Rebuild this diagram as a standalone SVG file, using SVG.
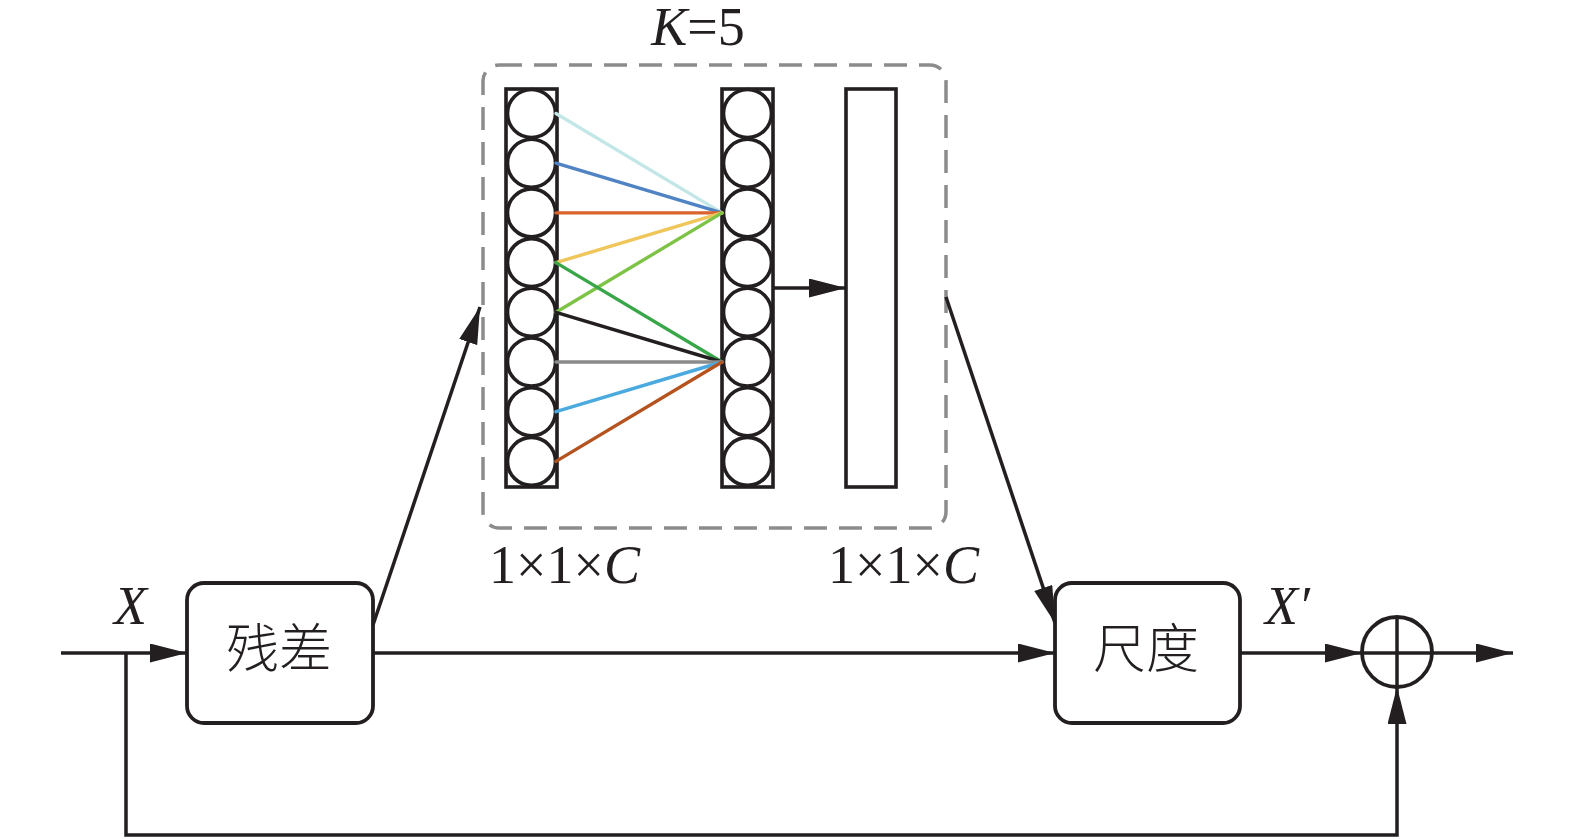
<svg xmlns="http://www.w3.org/2000/svg" width="1575" height="839" viewBox="0 0 1575 839">
<style>
.blk{fill:none;stroke:#231f20;stroke-width:3.8}
.col{fill:#fff;stroke:#231f20;stroke-width:3.6}
.ln{fill:none;stroke:#231f20;stroke-width:3.5}
.cl{fill:none;stroke-width:3.4;stroke-linecap:round}
.tx{font-family:"Liberation Serif","Times New Roman",serif;font-size:54px;fill:#231f20}
.it{font-style:italic}
.cjk{font-family:"Noto Sans CJK SC","Noto Sans CJK JP",sans-serif;font-size:53px;fill:#231f20;text-anchor:middle;font-weight:300}
</style>
<defs>
<marker id="ah" markerUnits="userSpaceOnUse" markerWidth="38" markerHeight="20" refX="37" refY="9.5" orient="auto">
<path d="M0,0 L37,9.5 L0,19 z" fill="#231f20"/>
</marker>
</defs>
<rect x="0" y="0" width="1575" height="839" fill="#fff"/>

<g id="module">
<rect x="483" y="65" width="463" height="463" rx="16" fill="none" stroke="#8c8c8c" stroke-width="3.5" stroke-dasharray="23 12"/>
<text class="tx" x="698" y="45" text-anchor="middle"><tspan class="it">K</tspan>=5</text>
</g>

<g id="layer-in">
<rect class="col" x="506" y="89" width="51" height="398"/>
<circle class="col" cx="531.5" cy="113.5" r="24"/>
<circle class="col" cx="531.5" cy="163.2" r="24"/>
<circle class="col" cx="531.5" cy="212.9" r="24"/>
<circle class="col" cx="531.5" cy="262.6" r="24"/>
<circle class="col" cx="531.5" cy="312.3" r="24"/>
<circle class="col" cx="531.5" cy="362" r="24"/>
<circle class="col" cx="531.5" cy="411.7" r="24"/>
<circle class="col" cx="531.5" cy="461.4" r="24"/>
<text class="tx" x="489" y="583">1×1×<tspan class="it">C</tspan></text>
</g>

<g id="layer-out">
<rect class="col" x="722" y="89" width="51" height="398"/>
<circle class="col" cx="747.5" cy="113.5" r="24"/>
<circle class="col" cx="747.5" cy="163.2" r="24"/>
<circle class="col" cx="747.5" cy="212.9" r="24"/>
<circle class="col" cx="747.5" cy="262.6" r="24"/>
<circle class="col" cx="747.5" cy="312.3" r="24"/>
<circle class="col" cx="747.5" cy="362" r="24"/>
<circle class="col" cx="747.5" cy="411.7" r="24"/>
<circle class="col" cx="747.5" cy="461.4" r="24"/>
</g>

<g id="weights">
<rect class="col" x="846" y="89" width="50" height="398"/>
<text class="tx" x="828" y="583">1×1×<tspan class="it">C</tspan></text>
</g>

<g id="residual">
<rect class="blk" x="187" y="583" width="186" height="140" rx="17"/>
<text class="cjk" x="279" y="668">残差</text>
</g>

<g id="scale">
<rect class="blk" x="1055" y="583" width="185" height="140" rx="17"/>
<text class="cjk" x="1146" y="668">尺度</text>
</g>

<g id="sum">
<circle class="blk" cx="1397" cy="652" r="35"/>
<line class="ln" x1="1397" y1="617" x2="1397" y2="687"/>
</g>

<g id="connectors">
<g id="conv-lines">
<line class="cl" stroke="#c3e6e6" x1="556" y1="113.5" x2="722" y2="212.9"/>
<line class="cl" stroke="#4f83c3" x1="556" y1="163.2" x2="722" y2="212.9"/>
<line class="cl" stroke="#d9622d" x1="556" y1="212.9" x2="722" y2="212.9"/>
<line class="cl" stroke="#f0c65a" x1="556" y1="262.6" x2="722" y2="212.9"/>
<line class="cl" stroke="#7dc345" x1="556" y1="312.3" x2="722" y2="212.9"/>
<line class="cl" stroke="#39a64a" x1="556" y1="262.6" x2="722" y2="362"/>
<line class="cl" stroke="#231f20" x1="556" y1="312.3" x2="722" y2="362"/>
<line class="cl" stroke="#8a8a8a" x1="556" y1="362" x2="722" y2="362"/>
<line class="cl" stroke="#4aaadf" x1="556" y1="411.7" x2="722" y2="362"/>
<line class="cl" stroke="#b5531f" x1="556" y1="461.4" x2="722" y2="362"/>
</g>
<line class="ln" x1="773" y1="288" x2="846" y2="288" marker-end="url(#ah)"/>
<line class="ln" x1="61" y1="653" x2="187" y2="653" marker-end="url(#ah)"/>
<line class="ln" x1="373" y1="653" x2="1055" y2="653" marker-end="url(#ah)"/>
<line class="ln" x1="1240" y1="653" x2="1362" y2="653" marker-end="url(#ah)"/>
<line class="ln" x1="1362" y1="653" x2="1432" y2="653"/>
<line class="ln" x1="1432" y1="653" x2="1513" y2="653" marker-end="url(#ah)"/>
<path class="ln" d="M126,653 V835 H1397 V687" marker-end="url(#ah)"/>
<line class="ln" x1="373" y1="625" x2="480" y2="307" marker-end="url(#ah)"/>
<line class="ln" x1="946" y1="297" x2="1055" y2="623" marker-end="url(#ah)"/>
<text class="tx it" x="114" y="624">X</text>
<text class="tx it" x="1265" y="624">X′</text>
</g>
</svg>
